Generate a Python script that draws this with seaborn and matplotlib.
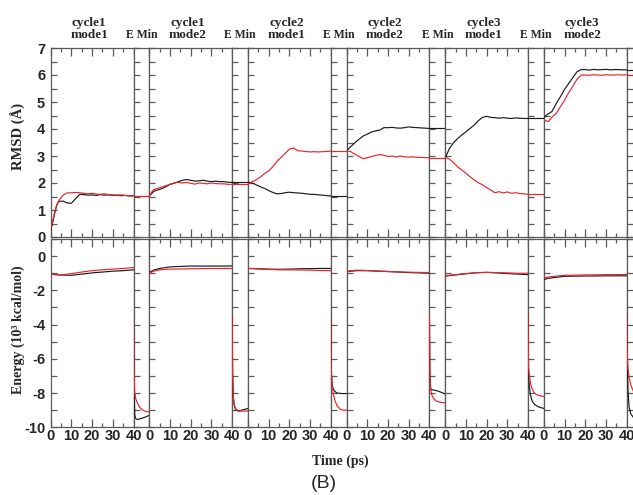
import matplotlib
matplotlib.use("Agg")
import matplotlib.pyplot as plt
from matplotlib.ticker import MultipleLocator, NullLocator
import pandas as pd
import seaborn as sns

# ---------------------------------------------------------------- data
segment_titles = ["cycle1\nmode1", "cycle1\nmode2", "cycle2\nmode1",
                  "cycle2\nmode2", "cycle3\nmode1", "cycle3\nmode2"]
emin_title = "E Min"
x_tick_labels = ["0", "10", "20", "30", "40"]

# MD time axis (ps) for RMSD traces
md_time = [0, 1, 2, 3, 4, 6, 8, 10, 12, 14, 16, 18, 20, 22, 24, 26, 28, 30,
           32, 34, 36, 38, 40]

rmsd_black_c1m1 = [0.25, 0.55, 0.90, 1.20, 1.32, 1.33, 1.26, 1.25, 1.42, 1.58, 1.57, 1.55,
                   1.56, 1.54, 1.57, 1.55, 1.56, 1.54, 1.55, 1.53, 1.54, 1.52, 1.53]
rmsd_red_c1m1 = [0.30, 0.62, 0.95, 1.20, 1.36, 1.55, 1.63, 1.64, 1.65, 1.64, 1.62, 1.60,
                 1.62, 1.59, 1.58, 1.60, 1.57, 1.56, 1.55, 1.56, 1.54, 1.53, 1.52]
rmsd_black_c1m2 = [1.52, 1.60, 1.68, 1.72, 1.74, 1.79, 1.86, 1.95, 1.99, 2.05, 2.10, 2.13,
                   2.10, 2.07, 2.08, 2.10, 2.07, 2.05, 2.07, 2.05, 2.05, 2.03, 2.02]
rmsd_red_c1m2 = [1.52, 1.65, 1.75, 1.78, 1.80, 1.85, 1.90, 1.95, 2.00, 2.03, 2.00, 2.02,
                 1.99, 1.96, 2.00, 1.99, 1.97, 2.00, 1.98, 1.97, 1.97, 1.95, 1.95]
rmsd_black_c2m1 = [2.03, 2.02, 2.00, 1.97, 1.93, 1.86, 1.80, 1.72, 1.65, 1.60, 1.61, 1.64,
                   1.66, 1.64, 1.63, 1.62, 1.60, 1.58, 1.58, 1.56, 1.55, 1.53, 1.52]
rmsd_red_c2m1 = [1.96, 2.00, 2.05, 2.08, 2.12, 2.22, 2.35, 2.45, 2.60, 2.80, 2.95, 3.10,
                 3.25, 3.30, 3.20, 3.18, 3.17, 3.15, 3.16, 3.15, 3.16, 3.17, 3.18]
rmsd_black_c2m2 = [3.20, 3.27, 3.35, 3.42, 3.49, 3.62, 3.74, 3.81, 3.89, 3.93, 3.96, 4.05,
                   4.05, 4.06, 4.04, 4.03, 4.05, 4.08, 4.06, 4.05, 4.04, 4.03, 4.02]
rmsd_red_c2m2 = [3.20, 3.18, 3.16, 3.11, 3.07, 2.98, 2.90, 2.94, 2.98, 3.02, 3.05, 3.03,
                 2.98, 3.00, 2.96, 3.00, 2.97, 2.96, 2.97, 2.95, 2.95, 2.94, 2.94]
rmsd_black_c3m1 = [2.94, 3.10, 3.28, 3.38, 3.49, 3.65, 3.78, 3.90, 4.02, 4.15, 4.31, 4.43,
                   4.47, 4.43, 4.42, 4.40, 4.42, 4.40, 4.39, 4.41, 4.40, 4.39, 4.39]
rmsd_red_c3m1 = [2.94, 2.92, 2.88, 2.82, 2.75, 2.60, 2.48, 2.36, 2.23, 2.11, 2.01, 1.93,
                 1.83, 1.74, 1.64, 1.68, 1.63, 1.67, 1.62, 1.64, 1.61, 1.60, 1.58]
rmsd_black_c3m2 = [4.42, 4.50, 4.56, 4.60, 4.66, 4.95, 5.20, 5.47, 5.69, 5.91, 6.12, 6.20,
                   6.20, 6.18, 6.21, 6.19, 6.20, 6.21, 6.19, 6.20, 6.20, 6.19, 6.19]
rmsd_red_c3m2 = [4.36, 4.30, 4.28, 4.35, 4.45, 4.58, 4.83, 5.07, 5.35, 5.59, 5.84, 6.00,
                 6.00, 5.99, 6.01, 6.00, 5.99, 6.01, 6.00, 6.00, 6.01, 6.00, 6.01]

# RMSD held during each energy minimisation
emin_rmsd_black = [1.53, 2.03, 1.52, 4.02, 4.39, 6.19]
emin_rmsd_red = [1.52, 1.95, 3.19, 2.94, 1.58, 6.01]

# MD time axis (ps) for energy traces, energies in 10^3 kcal/mol
energy_time = [0, 2, 5, 10, 15, 20, 25, 30, 35, 40]
energy_black_c1m1 = [-1.05, -1.08, -1.10, -1.12, -1.05, -0.98, -0.93, -0.88, -0.85, -0.80]
energy_red_c1m1 = [-1.05, -1.08, -1.10, -1.02, -0.93, -0.85, -0.80, -0.76, -0.72, -0.67]
energy_black_c1m2 = [-0.95, -0.82, -0.72, -0.63, -0.60, -0.58, -0.58, -0.58, -0.58, -0.57]
energy_red_c1m2 = [-1.00, -0.88, -0.80, -0.76, -0.75, -0.74, -0.73, -0.72, -0.72, -0.72]
energy_black_c2m1 = [-0.72, -0.72, -0.74, -0.76, -0.77, -0.76, -0.74, -0.73, -0.72, -0.72]
energy_red_c2m1 = [-0.72, -0.73, -0.75, -0.78, -0.80, -0.80, -0.81, -0.82, -0.84, -0.85]
energy_black_c2m2 = [-0.92, -0.88, -0.85, -0.85, -0.88, -0.90, -0.93, -0.96, -0.98, -1.00]
energy_red_c2m2 = [-0.90, -0.85, -0.82, -0.84, -0.87, -0.90, -0.92, -0.94, -0.95, -0.96]
energy_black_c3m1 = [-1.17, -1.14, -1.10, -1.03, -0.97, -0.95, -0.98, -1.02, -1.05, -1.08]
energy_red_c3m1 = [-1.15, -1.12, -1.08, -1.02, -0.97, -0.95, -0.96, -0.98, -1.00, -1.00]
energy_black_c3m2 = [-1.37, -1.30, -1.25, -1.18, -1.17, -1.16, -1.16, -1.15, -1.15, -1.15]
energy_red_c3m2 = [-1.27, -1.22, -1.18, -1.12, -1.11, -1.10, -1.09, -1.08, -1.08, -1.07]

# minimisation progress (fraction of steps) and energies
emin_progress = [0, 0.03, 0.08, 0.15, 0.25, 0.4, 0.6, 0.8, 1.0]
emin_energy_black_1 = [-3.3, -7.5, -9.3, -9.5, -9.55, -9.5, -9.45, -9.38, -9.3]
emin_energy_red_1 = [-3.3, -6.5, -8.0, -8.35, -8.6, -8.85, -9.0, -9.08, -9.1]
emin_energy_black_2 = [-3.5, -7.0, -8.3, -8.8, -9.0, -9.05, -9.0, -8.95, -8.9]
emin_energy_red_2 = [-3.5, -7.0, -8.3, -8.75, -8.95, -9.05, -9.05, -9.05, -9.05]
emin_energy_black_3 = [-3.6, -6.8, -7.5, -7.75, -7.9, -8.0, -8.02, -8.03, -8.03]
emin_energy_red_3 = [-3.6, -6.5, -7.5, -8.0, -8.4, -8.75, -8.95, -9.0, -9.0]
emin_energy_black_4 = [-3.5, -7.0, -7.75, -7.8, -7.82, -7.85, -7.9, -7.98, -8.05]
emin_energy_red_4 = [-3.5, -7.0, -7.8, -8.1, -8.3, -8.45, -8.52, -8.55, -8.57]
emin_energy_black_5 = [-3.3, -6.8, -7.6, -8.1, -8.45, -8.65, -8.78, -8.85, -8.9]
emin_energy_red_5 = [-3.3, -6.5, -7.0, -7.4, -7.75, -8.0, -8.12, -8.17, -8.2]
emin_energy_black_6 = [-3.3, -6.0, -7.8, -8.8, -9.2, -9.4, -9.5, -9.5, -9.5]
emin_energy_red_6 = [-3.3, -5.5, -6.5, -7.1, -7.5, -7.85, -8.2, -8.4, -8.5]

rmsd_black = [rmsd_black_c1m1, rmsd_black_c1m2, rmsd_black_c2m1,
              rmsd_black_c2m2, rmsd_black_c3m1, rmsd_black_c3m2]
rmsd_red = [rmsd_red_c1m1, rmsd_red_c1m2, rmsd_red_c2m1,
            rmsd_red_c2m2, rmsd_red_c3m1, rmsd_red_c3m2]
energy_black = [energy_black_c1m1, energy_black_c1m2, energy_black_c2m1,
                energy_black_c2m2, energy_black_c3m1, energy_black_c3m2]
energy_red = [energy_red_c1m1, energy_red_c1m2, energy_red_c2m1,
              energy_red_c2m2, energy_red_c3m1, energy_red_c3m2]
emin_energy_black = [emin_energy_black_1, emin_energy_black_2, emin_energy_black_3,
                     emin_energy_black_4, emin_energy_black_5, emin_energy_black_6]
emin_energy_red = [emin_energy_red_1, emin_energy_red_2, emin_energy_red_3,
                   emin_energy_red_4, emin_energy_red_5, emin_energy_red_6]

# ---------------------------------------------------------------- style
sns.set_style("white")
plt.rcParams["font.family"] = ["Liberation Sans", "DejaVu Sans"]
plt.rcParams["axes.linewidth"] = 0.9
plt.rcParams["axes.unicode_minus"] = False

SPINE = "#5a5a5a"
palette = {"run1": "#1a1a1a", "run2": "#e8242c"}
LW = 0.85

W, H = 633, 495
fig = plt.figure(figsize=(W / 100, H / 100), dpi=100)


def px_axes(left, top, width, height):
    return fig.add_axes([left / W, 1 - (top + height) / H, width / W, height / H])


X0, MD_W, EM_W = 50.7, 82.8, 15.84
ROWS = {"rmsd": (48.0, 189.0), "energy": (239.0, 188.3)}


def long_frame(x, black, red):
    return pd.DataFrame({
        "x": list(x) + list(x),
        "y": list(black) + list(red),
        "run": ["run1"] * len(x) + ["run2"] * len(x),
    })


def style_common(ax, row):
    for s in ax.spines.values():
        s.set_color(SPINE)
        s.set_linewidth(0.9)
    if row == "rmsd":
        ax.set_ylim(0, 7)
        ax.yaxis.set_major_locator(MultipleLocator(1))
        ax.yaxis.set_minor_locator(MultipleLocator(0.5))
    else:
        ax.set_ylim(-10, 1)
        ax.yaxis.set_major_locator(MultipleLocator(2))
        ax.yaxis.set_minor_locator(MultipleLocator(1))
    ax.tick_params(axis="y", which="both", direction="in", left=True, right=False,
                   length=4, width=0.9, color=SPINE, pad=4)
    ax.set_xlabel("")
    ax.set_ylabel("")


tick_font = dict(family="Liberation Sans", weight="bold", size=10.5)

for row, (top, height) in ROWS.items():
    for i in range(6):
        md_left = X0 + i * (MD_W + EM_W)
        em_left = md_left + MD_W

        # MD segment
        ax = px_axes(md_left, top, MD_W, height)
        if row == "rmsd":
            df = long_frame(md_time, rmsd_black[i], rmsd_red[i])
        else:
            df = long_frame(energy_time, energy_black[i], energy_red[i])
        sns.lineplot(data=df, x="x", y="y", hue="run", hue_order=["run1", "run2"],
                     palette=palette, legend=False, errorbar=None, lw=LW, ax=ax,
                     zorder=3)
        style_common(ax, row)
        ax.set_xlim(0, 40)
        ax.xaxis.set_major_locator(MultipleLocator(10))
        ax.xaxis.set_minor_locator(MultipleLocator(5))
        ax.tick_params(axis="x", which="both", direction="in", top=True, bottom=True,
                       width=0.9, color=SPINE, pad=1.5)
        ax.tick_params(axis="x", which="major", length=5.5)
        ax.tick_params(axis="x", which="minor", length=3)
        ax.tick_params(labelbottom=(row == "energy"), labelleft=(i == 0))
        if row == "energy":
            ax.set_xticks([0, 10, 20, 30, 40])
            ax.set_xticklabels(x_tick_labels, fontdict=tick_font)
        for lab in ax.get_yticklabels():
            lab.set_fontweight("bold")
            lab.set_fontsize(10.5)

        # energy-minimisation segment
        ax2 = px_axes(em_left, top, EM_W, height)
        if row == "rmsd":
            df2 = long_frame([0, 1], [emin_rmsd_black[i]] * 2, [emin_rmsd_red[i]] * 2)
        else:
            df2 = long_frame(emin_progress, emin_energy_black[i], emin_energy_red[i])
        sns.lineplot(data=df2, x="x", y="y", hue="run", hue_order=["run1", "run2"],
                     palette=palette, legend=False, errorbar=None, lw=LW, ax=ax2,
                     zorder=3)
        style_common(ax2, row)
        ax2.set_xlim(0, 1)
        ax2.xaxis.set_major_locator(NullLocator())
        ax2.xaxis.set_minor_locator(NullLocator())
        ax2.tick_params(labelleft=False, labelbottom=False)

        if row == "rmsd":
            fig.text((md_left + MD_W / 2 - 3) / W, 1 - 29 / H, segment_titles[i],
                     ha="center", va="center", fontsize=9.5, fontweight="bold",
                     family="Liberation Serif", linespacing=1.05)
            if i < 5:
                fig.text((em_left + EM_W / 2) / W, 1 - 34.5 / H, emin_title,
                         ha="center", va="center", fontsize=8.5, fontweight="bold",
                         family="Liberation Serif")

fig.text(18 / W, 1 - 136 / H, "RMSD (Å)", rotation=90, ha="center", va="center",
         fontsize=10.5, fontweight="bold", family="Liberation Serif")
fig.text(18 / W, 1 - 330 / H, "Energy (10³ kcal/mol)", rotation=90, ha="center",
         va="center", fontsize=10, fontweight="bold", family="Liberation Serif")
fig.text(340 / W, 1 - 461 / H, "Time (ps)", ha="center", va="center",
         fontsize=10, fontweight="bold", family="Liberation Serif")
fig.text(324 / W, 1 - 484 / H, "(B)", ha="center", va="center",
         fontsize=14, family="Liberation Sans")

fig.savefig("out.png", dpi=100)
